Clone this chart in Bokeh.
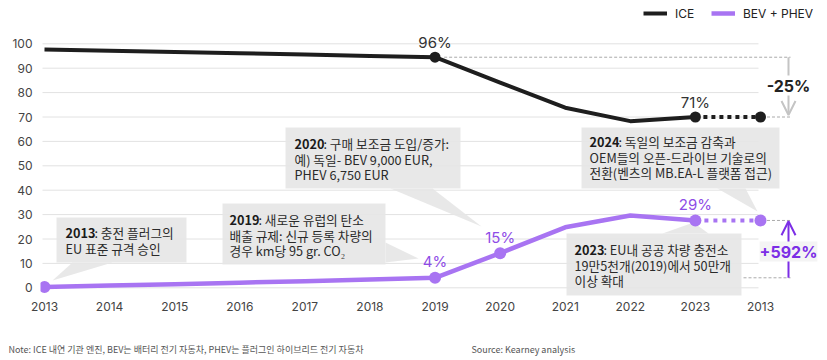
from bokeh.plotting import figure
from bokeh.models import (FixedTicker, Legend, LegendItem, Label, Arrow, OpenHead,
                          Range1d, Title)
from bokeh.core.properties import value
from bokeh.embed import file_html
from bokeh.resources import INLINE

# ---------------- data ----------------
years = ["2013", "2014", "2015", "2016", "2017", "2018", "2019", "2020",
         "2021", "2022", "2023", "2013"]
ice = [97.7, 97.2, 96.6, 96.1, 95.6, 95.0, 94.5, 84.1, 73.8, 68.3, 70.0, 70.0]
bev = [0.3, 0.9, 1.5, 2.1, 2.7, 3.4, 4.1, 14.2, 24.8, 29.6, 27.6, 27.6]
ice_label_idx = [6, 10]
ice_labels = ["96%", "71%"]
bev_label_idx = [6, 7, 10]
bev_labels = ["4%", "15%", "29%"]
ice_dot_idx = [6, 10, 11]
bev_dot_idx = [0, 6, 7, 10, 11]
y_ticks = [0, 10, 20, 30, 40, 50, 60, 70, 80, 90, 100]
ice_change = "-25%"
bev_change = "+592%"

callout_years = ["2013", "2019", "2020", "2024", "2023"]
callout_lines = [
    [": 충전 플러그의", "EU 표준 규격 승인"],
    [": 새로운 유럽의 탄소", "배출 규제: 신규 등록 차량의", "경우 km당 95 gr. CO₂"],
    [": 구매 보조금 도입/증가:", "예) 독일- BEV 9,000 EUR,", "PHEV 6,750 EUR"],
    [": 독일의 보조금 감축과", "OEM들의 오픈-드라이브 기술로의", "전환(벤츠의 MB.EA-L 플랫폼 접근)"],
    [": EU내 공공 차량 충전소", "19만5천개(2019)에서 50만개", "이상 확대"],
]
note_text = "Note: ICE 내연 기관 엔진, BEV는 배터리 전기 자동차, PHEV는 플러그인 하이브리드 전기 자동차"
source_text = "Source: Kearney analysis"

# ---------------- layout helpers (pixel -> data) ----------------
def XD(px):
    return (px - 44.0) / 65.09

def YD(py):
    return (287.3 - py) / 2.44

ICE_C = "#1e1e1e"
BEV_C = "#a874f2"
BEV_T = "#8e4ce6"
BEV_D = "#7c2ee6"
KR = value("Noto Sans CJK KR")
LAT = value("Inter")

p = figure(width=827, height=360, output_backend="svg", toolbar_location=None,
           x_range=Range1d(XD(40), XD(822)), y_range=Range1d(YD(298), YD(0)),
           min_border_left=40, min_border_right=5, min_border_top=0,
           min_border_bottom=62, title=None)
p.outline_line_color = None
p.background_fill_color = "white"
p.xgrid.visible = False
p.ygrid.visible = False

for ax in (p.xaxis[0], p.yaxis[0]):
    ax.axis_line_color = None
    ax.major_tick_line_color = None
    ax.minor_tick_line_color = None
    ax.major_tick_out = 0
    ax.major_tick_in = 0
    ax.major_label_text_font = "Inter"
    ax.major_label_text_font_size = "12px"
    ax.major_label_text_color = "#444444"
p.xaxis.ticker = FixedTicker(ticks=list(range(len(years))))
p.xaxis.major_label_overrides = {i: y for i, y in enumerate(years)}
p.xaxis.major_label_standoff = 3
p.yaxis.ticker = FixedTicker(ticks=y_ticks)
p.yaxis.major_label_standoff = 8

# gridlines (limited span)
p.segment(x0=[XD(42)] * len(y_ticks), x1=[XD(758)] * len(y_ticks), y0=y_ticks, y1=y_ticks,
          line_color="#e2e2e2", line_width=1)

xs = list(range(len(years)))

# callout boxes and pointers
box_px = [(56, 186, 217, 262), (222, 385, 203, 264), (285, 460, 127, 188),
          (581, 779, 127, 188), (566, 741, 233, 295)]
ptr_px = [[(72, 262), (112, 262), (52, 280)],
          [(385, 242), (385, 262), (418, 258)],
          [(390, 188), (432, 188), (481, 226)],
          [(717, 188), (745, 188), (757, 211)],
          [(662, 233), (708, 233), (693, 222)]]
text_left_px = [65, 229, 294, 589, 574]
line_top_px = [232, 219, 143, 141, 249]
LH = 15.6

p.quad(left=[XD(b[0]) for b in box_px], right=[XD(b[1]) for b in box_px],
       top=[YD(b[2]) for b in box_px], bottom=[YD(b[3]) for b in box_px],
       fill_color="#e5e5e5", fill_alpha=0.9, line_color=None)
p.patches(xs=[[XD(q[0]) for q in pt] for pt in ptr_px],
          ys=[[YD(q[1]) for q in pt] for pt in ptr_px],
          fill_color="#e5e5e5", fill_alpha=0.9, line_color=None)

# main lines
ice_line = p.line(xs[:11], ice[:11], line_color=ICE_C, line_width=4, line_join="round")
p.line(xs[10:], ice[10:], line_color=ICE_C, line_width=4, line_dash="4 4")
bev_line = p.line(xs[:11], bev[:11], line_color=BEV_C, line_width=4.5, line_join="round")
p.line(xs[10:], bev[10:], line_color=BEV_C, line_width=4, line_dash="4 5")

p.scatter([xs[i] for i in ice_dot_idx], [ice[i] for i in ice_dot_idx], size=11,
          fill_color=ICE_C, line_color=None)
p.scatter([xs[i] for i in bev_dot_idx], [bev[i] for i in bev_dot_idx], size=12,
          fill_color=BEV_C, line_color=None)

# reference dashed lines
RX = XD(790)
AX = XD(788)
p.segment(x0=[6.14, 11.1, 11.1, XD(743)], x1=[RX] * 4,
          y0=[ice[6], ice[11], bev[11], bev[6]], y1=[ice[6], ice[11], bev[11], bev[6]],
          line_color="#aaaaaa", line_width=1, line_dash="3 2")

p.add_layout(Arrow(end=OpenHead(size=14, line_color="#c4c4c4", line_width=2),
                   x_start=AX, y_start=ice[6], x_end=AX, y_end=ice[11] + 0.8,
                   line_color="#c4c4c4", line_width=2))
p.add_layout(Arrow(end=OpenHead(size=14, line_color=BEV_D, line_width=2),
                   x_start=AX, y_start=bev[6], x_end=AX, y_end=bev[11] - 0.3,
                   line_color=BEV_D, line_width=2))

p.add_layout(Label(x=AX, y=YD(85), text=ice_change, text_align="center",
                   text_baseline="middle", text_font="Inter", text_font_style="bold",
                   text_font_size="16px", text_color="#222222",
                   background_fill_color="white"))
p.add_layout(Label(x=AX, y=YD(251), text=bev_change, text_align="center",
                   text_baseline="middle", text_font="Inter", text_font_style="bold",
                   text_font_size="16px", text_color=BEV_D,
                   background_fill_color="#f4f4f4"))

# value labels
p.text([xs[i] for i in ice_label_idx], [ice[i] for i in ice_label_idx], text=ice_labels,
       text_align="center", text_baseline="middle", y_offset=-15,
       text_font=LAT, text_font_size="15px", text_color="#333333")
p.text([xs[i] for i in bev_label_idx], [bev[i] for i in bev_label_idx], text=bev_labels,
       text_align="center", text_baseline="middle", y_offset=-16,
       text_font=LAT, text_font_size="15px", text_color=BEV_T)

# callout texts
yr_x, yr_y, rest_x, rest_y, rest_t, rest_off = [], [], [], [], [], []
for k in range(len(callout_years)):
    tx = XD(text_left_px[k])
    for i, ln in enumerate(callout_lines[k]):
        ty = YD(line_top_px[k] + i * LH)
        if i == 0:
            yr_x.append(tx)
            yr_y.append(ty)
            rest_off.append(29)
        else:
            rest_off.append(0)
        rest_x.append(tx)
        rest_y.append(ty)
        rest_t.append(ln)
p.text(yr_x, yr_y, text=callout_years, text_align="left", text_baseline="middle",
       text_font=KR, text_font_style="bold", text_font_size="12.7px", text_color="#1a1a1a")
p.text(rest_x, rest_y, text=rest_t, x_offset=rest_off, text_align="left",
       text_baseline="middle", text_font=KR, text_font_size="12.7px", text_color="#2a2a2a")

# legend
legend = Legend(items=[LegendItem(label="ICE", renderers=[ice_line]),
                       LegendItem(label="BEV + PHEV", renderers=[bev_line])],
                orientation="horizontal", location=(603, 277), glyph_width=24,
                glyph_height=16, label_standoff=8, spacing=16, padding=0, margin=0,
                label_text_font="Inter", label_text_font_size="12px",
                label_text_color="#222222", background_fill_alpha=0,
                border_line_color=None)
p.add_layout(legend)

# footer (note + source on one line); leading blank lines push it down
footer = Title(text="\u3000\n\u3000\n" + note_text + "\u3000" * 12 + source_text,
               align="left", offset=-32, standoff=2, text_font="Noto Sans CJK KR",
               text_font_size="9px", text_font_style="normal", text_color="#555555")
p.add_layout(footer, "below")

open("out.html", "w").write(file_html(p, INLINE))
